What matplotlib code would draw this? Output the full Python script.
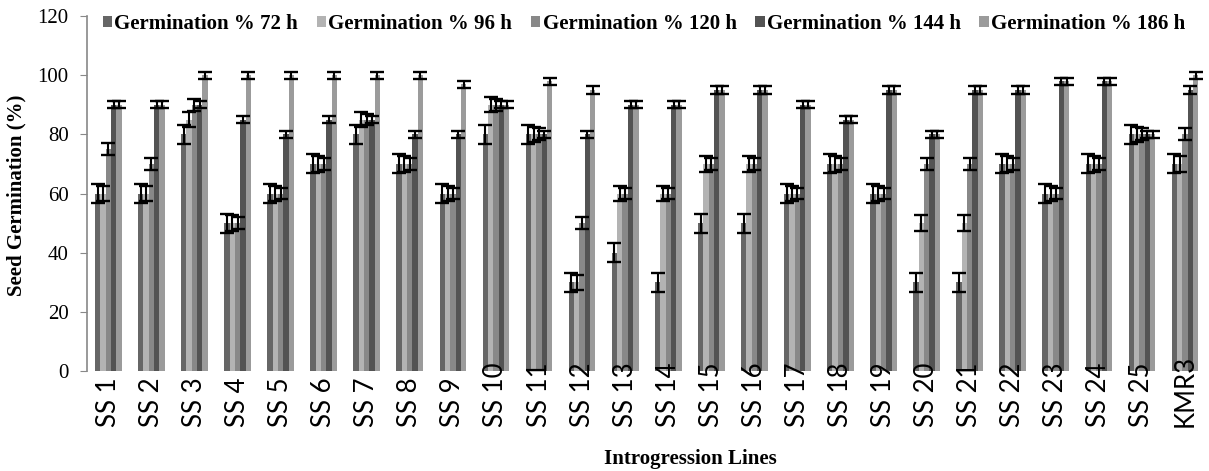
import matplotlib
matplotlib.use("Agg")
import matplotlib.pyplot as plt
import numpy as np

# introgression lines
lines = ['SS 1', 'SS 2', 'SS 3', 'SS 4', 'SS 5', 'SS 6', 'SS 7', 'SS 8', 'SS 9', 'SS 10',
         'SS 11', 'SS 12', 'SS 13', 'SS 14', 'SS 15', 'SS 16', 'SS 17', 'SS 18', 'SS 19',
         'SS 20', 'SS 21', 'SS 22', 'SS 23', 'SS 24', 'SS 25', 'KMR3']

germ_72 = [60, 60, 80, 50, 60, 70, 80, 70, 60, 80, 80, 30, 40, 30, 50, 50, 60, 70, 60, 30, 30, 70, 60, 70, 80, 70]
germ_96 = [60, 60, 85, 50, 60, 70, 85, 70, 60, 90, 80, 30, 60, 60, 70, 70, 60, 70, 60, 50, 50, 70, 60, 70, 80, 70]
germ_120 = [75, 70, 90, 50, 60, 70, 85, 70, 60, 90, 80, 50, 60, 60, 70, 70, 60, 70, 60, 70, 70, 70, 60, 70, 80, 80]
germ_144 = [90, 90, 90, 85, 80, 85, 85, 80, 80, 90, 80, 80, 90, 90, 95, 95, 90, 85, 95, 80, 95, 95, 98, 98, 80, 95]
germ_186 = [90, 90, 100, 100, 100, 100, 100, 100, 97, 90, 98, 95, 90, 90, 95, 95, 90, 85, 95, 80, 95, 95, 98, 98, 80, 100]

# error (+/-) for each series
err_72 = 3.2
err_96 = 2.6
err_120 = 2.0
err_144 = 1.2
err_186 = 1.2

series = [germ_72, germ_96, germ_120, germ_144, germ_186]
errors = [err_72, err_96, err_120, err_144, err_186]
names = ['Germination % 72 h', 'Germination % 96 h', 'Germination % 120 h',
         'Germination % 144 h', 'Germination % 186 h']
colors = ['#666666', '#b3b3b3', '#888888', '#535353', '#9b9b9b']

fig = plt.figure(figsize=(12.09, 4.71), dpi=100)
ax = fig.add_axes([0.0718, 0.2123, 0.9262, 0.7537])

x = np.arange(len(lines))
w = 0.124
handles = []
for i in range(5):
	pos = x + (i - 2) * w
	b = ax.bar(pos, series[i], w, color=colors[i], linewidth=0, zorder=2)
	handles.append(b)
	ax.errorbar(pos, series[i], yerr=errors[i], fmt='none', ecolor='black',
	            elinewidth=1.5, capsize=4.7, capthick=1.7, zorder=3)

ax.set_xlim(-0.5, len(lines) - 0.5)
ax.set_ylim(0, 120)
ax.set_yticks(np.arange(0, 121, 20))
ax.set_xticks([])
ax.tick_params(axis='y', length=5, color='#888888', labelsize=15, pad=8)
for lab in ax.get_yticklabels():
	lab.set_fontfamily('Liberation Serif')

for s in ['top', 'right', 'bottom']:
	ax.spines[s].set_visible(False)
ax.spines['left'].set_color('#888888')
ax.spines['left'].set_linewidth(1.2)

# category labels, bottom aligned like excel
for i, name in enumerate(lines):
	ax.text(x[i], -0.158, name, transform=ax.get_xaxis_transform(), rotation=90,
	        ha='center', va='bottom', fontsize=18.5, fontfamily='Lato')

fig.text(16 / 1209, 0.585, 'Seed Germination (%)', rotation=90, ha='center', va='center',
         fontsize=15, fontweight='bold', fontfamily='Liberation Serif')
fig.text(690 / 1209, 1 - 459 / 471, 'Introgression Lines', ha='center', va='center',
         fontsize=15, fontweight='bold', fontfamily='Liberation Serif')

fig.legend(handles, names, loc='center left', bbox_to_anchor=(103 / 1209, 1 - 24 / 471),
           ncol=5, frameon=False, borderpad=0, borderaxespad=0,
           handlelength=0.45, handleheight=0.45, handletextpad=0.1, columnspacing=0.9,
           prop={'family': 'Liberation Serif', 'weight': 'bold', 'size': 15})

fig.savefig('out.png', dpi=100)
